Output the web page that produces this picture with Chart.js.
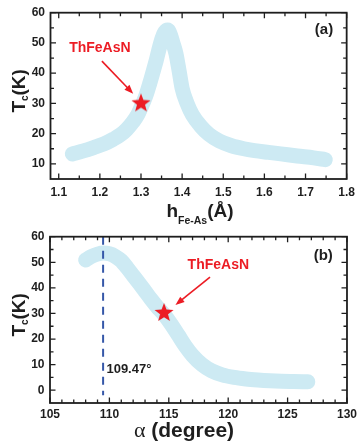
<!DOCTYPE html>
<html>
<head>
<meta charset="utf-8">
<script src="https://cdn.jsdelivr.net/npm/chart.js@4.4.1/dist/chart.umd.min.js"></script>
<style>
  html, body { margin: 0; padding: 0; background: #fff; }
  #wrap { position: relative; width: 361px; height: 447px; overflow: hidden; }
  canvas { position: absolute; left: 0; }
  #chart-a { top: 0; }
  #chart-b { top: 224px; }
</style>
</head>
<body>
<div id="wrap">
  <canvas id="chart-a" width="361" height="230"></canvas>
  <canvas id="chart-b" width="361" height="223"></canvas>
</div>
<script>
// Panel (a): Tc vs Fe-As height
const hFeAs = [1.133, 1.16, 1.185, 1.21, 1.233, 1.25, 1.265, 1.28, 1.293, 1.305, 1.313, 1.321, 1.329, 1.337, 1.345, 1.352, 1.358, 1.365, 1.372, 1.378, 1.385, 1.393, 1.40, 1.412, 1.425, 1.445, 1.465, 1.49, 1.52, 1.55, 1.576, 1.61, 1.64, 1.68, 1.72, 1.748];
const tcA = [13.3, 14.3, 15.4, 16.6, 18.2, 19.6, 21.4, 23.8, 26.5, 30.2, 33.0, 36.5, 40.3, 44.2, 48.6, 51.8, 53.6, 54.3, 52.5, 49.8, 46.5, 40.5, 35.0, 30.0, 26.2, 22.5, 19.8, 17.6, 16.0, 15.0, 14.4, 13.8, 13.3, 12.6, 12.0, 11.4];
const xTicksA = [1.1, 1.2, 1.3, 1.4, 1.5, 1.6, 1.7, 1.8];
const xMinorA = [1.15, 1.25, 1.35, 1.45, 1.55, 1.65, 1.75];
const yTicksA = [10, 20, 30, 40, 50, 60];
const yMinorA = [15, 25, 35, 45, 55];
const starA = [1.3, 30];

// Panel (b): Tc vs As-Fe-As angle
const alphaB = [108.0, 108.5, 109.0, 109.5, 110.0, 110.5, 111.0, 111.5, 112.0, 112.5, 113.0, 113.5, 114.0, 114.6, 115.2, 115.8, 116.4, 117.0, 117.8, 118.6, 119.5, 120.5, 121.5, 122.5, 123.5, 124.5, 125.5, 126.7];
const tcB = [50.9, 52.3, 53.2, 53.6, 53.3, 52.3, 50.6, 47.8, 44.8, 41.8, 38.7, 35.6, 32.7, 29.6, 25.8, 21.5, 17.2, 13.6, 10.0, 7.6, 6.0, 5.0, 4.4, 4.0, 3.7, 3.5, 3.4, 3.3];
const xTicksB = [105, 110, 115, 120, 125, 130];
const xMinorB = [106, 107, 108, 109, 111, 112, 113, 114, 116, 117, 118, 119, 121, 122, 123, 124, 126, 127, 128, 129];
const yTicksB = [0, 10, 20, 30, 40, 50, 60];
const yMinorB = [5, 15, 25, 35, 45, 55];
const starB = [114.6, 30.2];
const tetraAngle = 109.47;
const tetraSpan = [60, -2];

const BAND = '#cdeaf3';
const RED = '#ec1c24';
const INK = '#1e1e1e';
const SANS = '"Liberation Sans", Arial, sans-serif';

// Filled five-point star used as point image
function makeStar(r) {
  const c = document.createElement('canvas');
  c.width = c.height = 2 * r + 2;
  const g = c.getContext('2d');
  g.fillStyle = RED;
  g.beginPath();
  for (let i = 0; i < 10; i++) {
    const rad = i % 2 ? r * 0.42 : r;
    const a = -Math.PI / 2 + i * Math.PI / 5;
    g.lineTo(r + 1 + rad * Math.cos(a), r + 1 + rad * Math.sin(a));
  }
  g.closePath();
  g.fill();
  return c;
}
const starImg = makeStar(10);

function toPoints(xs, ys) {
  return xs.map((x, i) => ({ x: x, y: ys[i] }));
}

function drawArrow(ctx, x1, y1, x2, y2) {
  const ang = Math.atan2(y2 - y1, x2 - x1);
  const len = 9, half = 3.5;
  ctx.beginPath();
  ctx.moveTo(x1, y1);
  ctx.lineTo(x2 - len * 0.8 * Math.cos(ang), y2 - len * 0.8 * Math.sin(ang));
  ctx.stroke();
  ctx.beginPath();
  ctx.moveTo(x2, y2);
  ctx.lineTo(x2 - len * Math.cos(ang) + half * Math.sin(ang), y2 - len * Math.sin(ang) - half * Math.cos(ang));
  ctx.lineTo(x2 - len * Math.cos(ang) - half * Math.sin(ang), y2 - len * Math.sin(ang) + half * Math.cos(ang));
  ctx.closePath();
  ctx.fill();
}

// Draw a run of [text, font, dy] pieces centred on cx
function drawRun(ctx, parts, cx, cy) {
  let w = 0;
  parts.forEach(p => { ctx.font = p[1]; w += ctx.measureText(p[0]).width; });
  let x = cx - w / 2;
  parts.forEach(p => {
    ctx.font = p[1];
    ctx.fillText(p[0], x, cy + p[2]);
    x += ctx.measureText(p[0]).width;
  });
}

// Box frame, inward ticks, annotations and axis titles
function framePlugin(opt) {
  return {
    id: 'frame',
    afterDatasetsDraw(chart) {
      const { ctx, chartArea: a, scales: { x, y } } = chart;
      ctx.save();
      ctx.strokeStyle = INK;
      ctx.lineWidth = 1.3;
      ctx.beginPath();
      const tickX = (vals, len) => vals.forEach(v => {
        const p = x.getPixelForValue(v);
        ctx.moveTo(p, a.bottom); ctx.lineTo(p, a.bottom - len);
        ctx.moveTo(p, a.top); ctx.lineTo(p, a.top + len);
      });
      const tickY = (vals, len) => vals.forEach(v => {
        const p = y.getPixelForValue(v);
        ctx.moveTo(a.left, p); ctx.lineTo(a.left + len, p);
        ctx.moveTo(a.right, p); ctx.lineTo(a.right - len, p);
      });
      tickX(opt.xTicks, 5.5);
      tickX(opt.xMinor, 3.5);
      tickY(opt.yTicks, 5.5);
      tickY(opt.yMinor, 3.5);
      ctx.stroke();
      ctx.lineWidth = 1.8;
      ctx.strokeRect(a.left, a.top, a.right - a.left, a.bottom - a.top);

      // annotations
      ctx.fillStyle = RED;
      ctx.strokeStyle = RED;
      ctx.lineWidth = 1.6;
      const ar = opt.arrow;
      drawArrow(ctx, x.getPixelForValue(ar[0]), y.getPixelForValue(ar[1]), x.getPixelForValue(ar[2]), y.getPixelForValue(ar[3]));
      ctx.font = 'bold 14px ' + SANS;
      ctx.textAlign = 'center';
      ctx.textBaseline = 'middle';
      ctx.fillText('ThFeAsN', x.getPixelForValue(opt.name[0]), y.getPixelForValue(opt.name[1]));
      ctx.fillStyle = INK;
      ctx.font = 'bold 15px ' + SANS;
      ctx.fillText(opt.panel, x.getPixelForValue(opt.panelAt[0]), y.getPixelForValue(opt.panelAt[1]));
      if (opt.note) {
        ctx.font = 'bold 13px ' + SANS;
        ctx.textAlign = 'left';
        ctx.fillText(opt.note[0], x.getPixelForValue(opt.note[1]), y.getPixelForValue(opt.note[2]));
      }

      // axis titles
      ctx.fillStyle = INK;
      ctx.textAlign = 'left';
      ctx.textBaseline = 'alphabetic';
      drawRun(ctx, opt.xTitle, opt.xTitleAt[0], opt.xTitleAt[1]);
      ctx.save();
      ctx.translate(25, (a.top + a.bottom) / 2 - 5);
      ctx.rotate(-Math.PI / 2);
      drawRun(ctx, [['T', 'bold 19px ' + SANS, 0], ['c', 'bold 10px ' + SANS, 3], ['(K)', 'bold 19px ' + SANS, 0]], 0, 0);
      ctx.restore();
      ctx.restore();
    }
  };
}

function buildChart(id, opt) {
  const tickFont = { family: SANS, size: 12, weight: 'bold' };
  return new Chart(document.getElementById(id), {
    type: 'line',
    data: { datasets: opt.datasets },
    options: {
      responsive: false,
      animation: false,
      layout: { padding: opt.padding },
      plugins: { legend: { display: false }, tooltip: { enabled: false } },
      scales: {
        x: {
          type: 'linear',
          min: opt.xRange[0],
          max: opt.xRange[1],
          grid: { display: false, drawTicks: false },
          border: { display: false },
          ticks: { font: tickFont, color: INK, padding: opt.xPad, autoSkip: false, maxRotation: 0, callback: opt.xFmt },
          afterBuildTicks: s => { s.ticks = opt.xTicks.map(v => ({ value: v })); },
          afterFit: s => { s.height = opt.xHeight; }
        },
        y: {
          type: 'linear',
          min: opt.yRange[0],
          max: opt.yRange[1],
          grid: { display: false, drawTicks: false },
          border: { display: false },
          ticks: { font: tickFont, color: INK, padding: 5.5, autoSkip: false, callback: v => String(v) },
          afterBuildTicks: s => { s.ticks = opt.yTicks.map(v => ({ value: v })); },
          afterFit: s => { s.width = opt.yWidth; }
        }
      }
    },
    plugins: [framePlugin(opt)]
  });
}

const bandStyle = {
  borderColor: BAND,
  borderWidth: 15,
  pointRadius: 0,
  cubicInterpolationMode: 'monotone',
  borderCapStyle: 'round',
  borderJoinStyle: 'round',
  clip: false,
  order: 2
};

buildChart('chart-a', {
  datasets: [
    { data: [{ x: starA[0], y: starA[1] }], pointStyle: starImg, pointRadius: 10, showLine: false, order: 0, clip: false },
    Object.assign({ data: toPoints(hFeAs, tcA) }, bandStyle)
  ],
  padding: { top: 9, right: 11, left: 0, bottom: 0 },
  xRange: [1.08, 1.8],
  yRange: [5, 60],
  xTicks: xTicksA, xMinor: xMinorA, yTicks: yTicksA, yMinor: yMinorA,
  xFmt: v => v.toFixed(1),
  xPad: 6,
  xHeight: 51,
  yWidth: 50.5,
  arrow: [1.205, 44.0, 1.281, 33.2],
  name: [1.2, 48.3],
  panel: '(a)',
  panelAt: [1.745, 54.2],
  xTitle: [['h', 'bold 19px ' + SANS, 0], ['Fe-As', 'bold 10.5px ' + SANS, 7], ['(\u00C5)', 'bold 19px ' + SANS, 0]],
  xTitleAt: [200, 217]
});

buildChart('chart-b', {
  datasets: [
    { data: [{ x: starB[0], y: starB[1] }], pointStyle: starImg, pointRadius: 10, showLine: false, order: 0, clip: false },
    { data: tetraSpan.map(v => ({ x: tetraAngle, y: v })), borderColor: '#3557a8', borderWidth: 2, borderDash: [8, 6], pointRadius: 0, order: 1 },
    Object.assign({ data: toPoints(alphaB, tcB) }, bandStyle)
  ],
  padding: { top: 10, right: 11, left: 0, bottom: 0 },
  xRange: [105, 130],
  yRange: [-5, 60],
  xTicks: xTicksB, xMinor: xMinorB, yTicks: yTicksB, yMinor: yMinorB,
  xFmt: v => String(v),
  xPad: 4,
  xHeight: 44,
  yWidth: 50,
  arrow: [118.47, 44.2, 115.56, 33.3],
  name: [119.17, 48.7],
  panel: '(b)',
  panelAt: [128, 52.7],
  note: ['109.47\u00B0', 109.75, 8.3],
  xTitle: [['\u03B1', '22px "Liberation Serif", serif', 0], [' (degree)', 'bold 21px ' + SANS, 0]],
  xTitleAt: [184, 213]
});
</script>
</body>
</html>
